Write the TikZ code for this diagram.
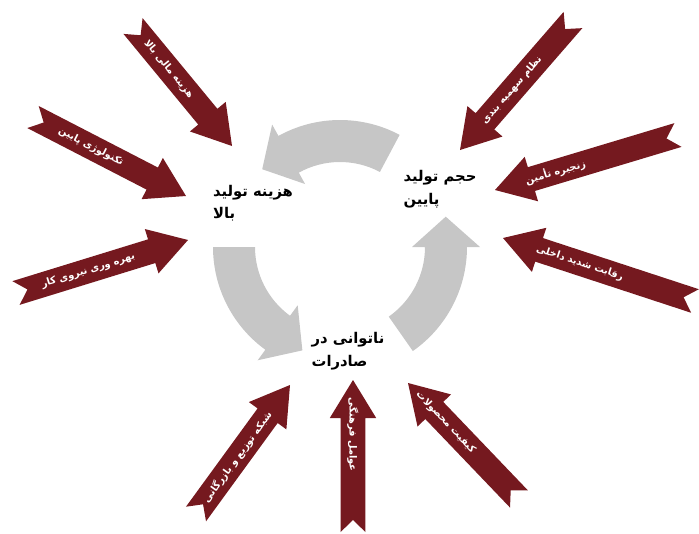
\documentclass[tikz,border=0pt]{standalone}
\usepackage{fontspec}
\newfontfamily\farsi[Script=Arabic]{DejaVu Sans}
\TeXXeTstate=1
\usetikzlibrary{calc}
\definecolor{arrowred}{RGB}{117,25,31}
\definecolor{cyclegray}{RGB}{198,198,198}

\begin{document}
\begin{tikzpicture}[x=0.025cm, y=-0.025cm,
    stage/.style={align=left, inner sep=0pt, font=\farsi\bfseries\fontsize{10.5}{16}\selectfont},
    factor/.style={inner sep=0pt, text=white, font=\farsi\bfseries\fontsize{7}{8}\selectfont}]
  \useasboundingbox (0,0) rectangle (699,534);
  \coordinate (hub) at (340,247);
  \foreach \a/\b in {180/126, 55/0, 298/241} {
    \fill[cyclegray, shift={(hub)}] (\a:127) arc (\a:\b:127) -- (\b:140) -- (\b-16:110)
      -- (\b:72) -- (\b:85) arc (\b:\a:85) -- cycle;
  }
  \foreach \nm/\tx/\ty/\px/\py/\wh/\txt in {
      finance/133/26/232/146/0.64/هزینه مالی بالا,
      tech/33/117/186/196/0.62/تکنولوژی پایین,
      labour/16/293/188/240/0.58/بهره وری نیروی کار,
      quota/573/20/460/150/0.46/نظام سهمیه بندی,
      supply/678/135/495/190/0.33/زنجیره تأمین,
      rivals/695/301/503/238/0.40/رقابت شدید داخلی,
      trade/196/514/290/385/0.56/شبکه توزیع و بازرگانی,
      culture/353/532/353/380/0.36/عوامل فرهنگی,
      quality/519/499/408/383/0.34/کیفیت محصولات} {
    \coordinate (\nm-tail) at (\tx,\ty);
    \coordinate (\nm-tip) at (\px,\py);
    \coordinate (\nm-neck) at ($(\nm-tip)!0.95cm!(\nm-tail)$);
    \fill[arrowred] ($(\nm-tail)!0.31cm!90:(\nm-tip)$) -- ($(\nm-neck)!0.31cm!90:(\nm-tip)$)
      -- ($(\nm-neck)!0.58cm!90:(\nm-tip)$) -- (\nm-tip)
      -- ($(\nm-neck)!0.58cm!-90:(\nm-tip)$) -- ($(\nm-neck)!0.31cm!-90:(\nm-tip)$)
      -- ($(\nm-tail)!0.31cm!-90:(\nm-tip)$) -- ($(\nm-tail)!0.3cm!(\nm-tip)$) -- cycle;
    \path (\nm-tip) -- (\nm-tail) node[factor, sloped, pos=\wh] (\nm) {\beginR\txt\endR};
  }
  \node[stage] (cost) at (253,203) {\beginR هزینه تولید\endR\\\beginR بالا\endR};
  \node[stage] (volume) at (440,189) {\beginR حجم تولید\endR\\\beginR پایین\endR};
  \node[stage] (export) at (348,351) {\beginR ناتوانی در\endR\\\beginR صادرات\endR};
\end{tikzpicture}
\end{document}
